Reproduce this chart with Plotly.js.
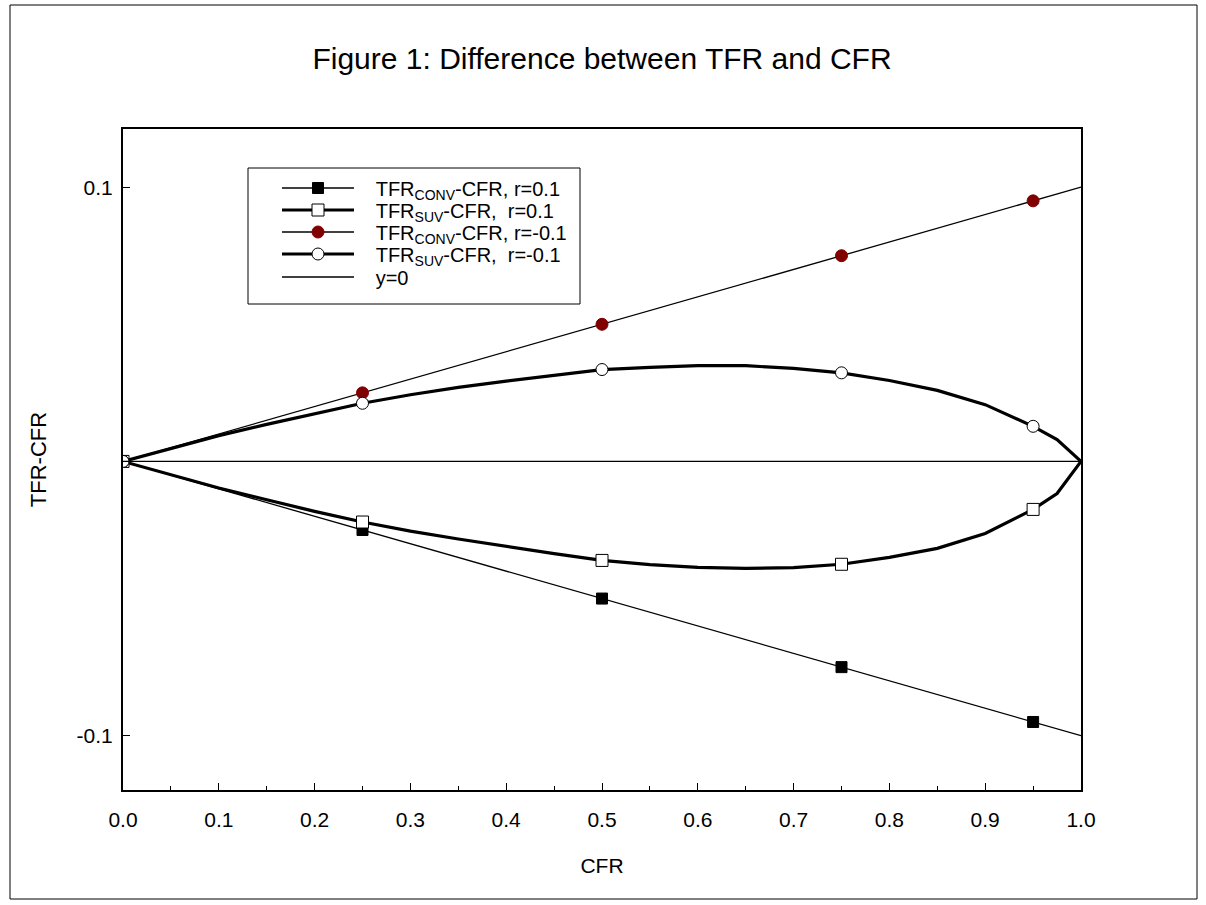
<!DOCTYPE html>
<html>
<head>
<meta charset="utf-8">
<script src="https://cdn.plot.ly/plotly-3.0.1.min.js"></script>
<style>html,body{margin:0;padding:0;background:#fff;}#chart{width:1206px;height:905px;}</style>
</head>
<body>
<div id="chart"></div>
<script>
// CFR values
const cfrLine = [0, 0.25, 0.5, 0.75, 0.95, 1.0];
const convPos = [0, -0.025, -0.05, -0.075, -0.095, -0.1];   // TFR_CONV-CFR, r=0.1
const convNeg = [0, 0.025, 0.05, 0.075, 0.095, 0.1];        // TFR_CONV-CFR, r=-0.1

const cfrCurve = [0, 0.05, 0.1, 0.15, 0.2, 0.25, 0.3, 0.35, 0.4, 0.45, 0.5, 0.55, 0.6, 0.65, 0.7, 0.75, 0.8, 0.85, 0.9, 0.95, 0.975, 1.0];
const suvPos = [0, -0.0049, -0.0097, -0.0140, -0.0182, -0.0221, -0.0254, -0.0283, -0.0310, -0.0336, -0.0361, -0.0376, -0.0386, -0.0390, -0.0387, -0.0375, -0.0350, -0.0317, -0.0263, -0.0175, -0.0117, 0]; // TFR_SUV-CFR, r=0.1
const suvNeg = [0, 0.0048, 0.0094, 0.0135, 0.0175, 0.0212, 0.0243, 0.0270, 0.0293, 0.0315, 0.0335, 0.0343, 0.0349, 0.0349, 0.0339, 0.0323, 0.0295, 0.0259, 0.0207, 0.0128, 0.0080, 0]; // TFR_SUV-CFR, r=-0.1

const markerAt = [0, 0.25, 0.5, 0.75, 0.95];
const zeroX = [0, 1];
const zeroY = [0, 0];

const names = [
  'TFR<sub>CONV</sub>-CFR, r=0.1',
  'TFR<sub>SUV</sub>-CFR,&nbsp; r=0.1',
  'TFR<sub>CONV</sub>-CFR, r=-0.1',
  'TFR<sub>SUV</sub>-CFR,&nbsp; r=-0.1',
  'y=0'
];
const lead = '&nbsp;&nbsp;&nbsp;';

const styles = [
  {line: {color: '#000', width: 1.3}, marker: {symbol: 'square', size: 11, color: '#000', opacity: 1, line: {color: '#000', width: 1}}},
  {line: {color: '#000', width: 3.2}, marker: {symbol: 'square', size: 12, color: '#fff', opacity: 1, line: {color: '#000', width: 1}}},
  {line: {color: '#000', width: 1.3}, marker: {symbol: 'circle', size: 12, color: '#800000', opacity: 1, line: {color: '#800000', width: 1}}},
  {line: {color: '#000', width: 3.2}, marker: {symbol: 'circle', size: 12, color: '#fff', opacity: 1, line: {color: '#000', width: 1}}},
  {line: {color: '#000', width: 1.3}}
];
const seriesX = [cfrLine, cfrCurve, cfrLine, cfrCurve, zeroX];
const seriesY = [convPos, suvPos, convNeg, suvNeg, zeroY];

function sizes(xs, s) { return xs.map(v => markerAt.some(m => Math.abs(m - v) < 1e-9) ? s : 0); }

const traces = [];
// data traces
seriesX.forEach((xs, i) => {
  const st = styles[i];
  const t = {x: xs, y: seriesY[i], mode: st.marker ? 'lines+markers' : 'lines', showlegend: false,
             line: st.line, hoverinfo: 'skip'};
  if (st.marker) t.marker = Object.assign({}, st.marker, {size: sizes(xs, st.marker.size), opacity: 1});
  traces.push(t);
});
// legend entries (one legend per row)
names.forEach((nm, i) => {
  const st = styles[i];
  const t = {x: [null], y: [null], name: lead + nm, mode: st.marker ? 'lines+markers' : 'lines',
             line: st.line, showlegend: true, legend: i === 0 ? 'legend' : 'legend' + (i + 1)};
  if (st.marker) t.marker = st.marker;
  traces.push(t);
});

const M = {l: 123, r: 125, t: 129, b: 115};
const W = 1206, H = 905;
const pw = W - M.l - M.r, ph = H - M.t - M.b;
function px(x) { return (x - M.l) / pw; }
function py(y) { return (H - M.b - y) / ph; }

const rowY = [188, 210, 232, 254, 277];
const legFont = 20;
function leg(i) {
  return {x: px(277), y: py(rowY[i]), xanchor: 'left', yanchor: 'middle', bgcolor: 'rgba(0,0,0,0)',
          borderwidth: 0, font: {size: legFont, color: '#000', family: 'Liberation Sans, Arial, sans-serif'},
          itemwidth: 72};
}

const layout = {
  width: W, height: H,
  margin: M,
  paper_bgcolor: '#fff', plot_bgcolor: '#fff',
  font: {family: 'Liberation Sans, Arial, sans-serif', color: '#000', size: 21},
  title: {text: 'Figure 1: Difference between TFR and CFR', x: 0.5, xref: 'paper', y: 1 - 58 / H, yanchor: 'middle',
          font: {size: 30, color: '#000'}},
  showlegend: true,
  legend: leg(0), legend2: leg(1), legend3: leg(2), legend4: leg(3), legend5: leg(4),
  xaxis: {range: [0, 1], tickvals: [0,0.1,0.2,0.3,0.4,0.5,0.6,0.7,0.8,0.9,1.0], tickformat: '.1f',
          ticks: 'inside', ticklen: 7, tickwidth: 1, tickcolor: '#000', ticklabelstandoff: 10,
          minor: {ticks: 'inside', dtick: 0.05, tick0: 0, ticklen: 4, tickcolor: '#000', showgrid: false},
          showgrid: false, zeroline: false, showline: true, linecolor: '#000', linewidth: 2, mirror: true,
          title: {text: 'CFR', font: {size: 21, color: '#000'}, standoff: 28}, tickfont: {size: 21, color: '#000'}},
  yaxis: {range: [-0.1198, 0.1212], tickvals: [-0.1, 0.1], ticktext: ['-0.1', '0.1'],
          ticks: 'inside', ticklen: 7, tickwidth: 1, tickcolor: '#000', ticklabelstandoff: 4,
          showgrid: false, zeroline: false, showline: true, linecolor: '#000', linewidth: 2, mirror: true,
          title: {text: 'TFR-CFR', font: {size: 22, color: '#000'}, standoff: 24}, tickfont: {size: 21, color: '#000'}},
  shapes: [
    {type: 'rect', xref: 'paper', yref: 'paper', x0: px(10), x1: px(1197), y0: py(899), y1: py(5),
     line: {color: '#000', width: 1}, fillcolor: 'rgba(0,0,0,0)', layer: 'below'},
    {type: 'rect', xref: 'paper', yref: 'paper', x0: px(248), x1: px(580), y0: py(304), y1: py(168),
     line: {color: '#000', width: 1}, fillcolor: '#fff', layer: 'above'}
  ]
};

Plotly.newPlot('chart', traces, layout, {staticPlot: true, displayModeBar: false});
</script>
</body>
</html>
